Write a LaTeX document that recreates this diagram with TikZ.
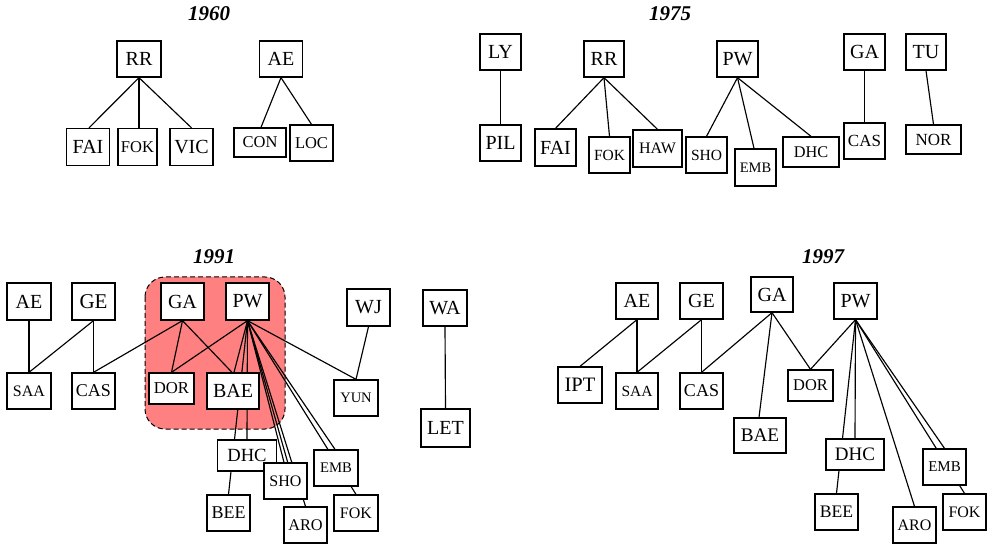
\documentclass[tikz,border=0pt]{standalone}
\usepackage{fontspec}
\setmainfont{Liberation Serif}
\pgfdeclarelayer{bg}
\pgfdeclarelayer{edges}
\pgfsetlayers{bg,edges,main}
\definecolor{hl}{RGB}{255,128,128}
\tikzset{
  box/.style={draw, fill=white, line width=1.3pt, inner sep=0pt},
  bx/.style n args={3}{box, minimum width=#1 pt, minimum height=#2 pt, font=\fontsize{#3}{#3}\selectfont},
  ttl/.style={font=\fontsize{21}{21}\selectfont\bfseries\itshape, inner sep=0pt},
  edge/.style={line width=1.15pt},
  hlbox/.style={fill=hl, draw=black, line width=1pt, dash pattern=on 5pt off 3pt, rounded corners=20pt}
}
\begin{document}
\begin{tikzpicture}[x=1pt,y=-1pt]
\useasboundingbox (0,0) rectangle (991,545);
% ---------- 1960 ----------
\node[ttl] (t60) at (209,14) {1960};
\node[bx={44}{36}{20}] (RRa) at (139,59) {RR};
\node[bx={43}{36}{20}] (AEa) at (281,59) {AE};
\node[bx={43}{37}{20}] (FAIa) at (88,147) {FAI};
\node[bx={39}{37}{16.5}] (FOKa) at (137.5,147) {FOK};
\node[bx={43}{37}{20}] (VICa) at (191.5,147) {VIC};
\node[bx={52}{29}{16.5}] (CONa) at (260,142.5) {CON};
\node[bx={43}{36}{16.5}] (LOCa) at (311.5,143) {LOC};
% ---------- 1975 ----------
\node[ttl] (t75) at (670,14) {1975};
\node[bx={41}{36}{20}] (LYb) at (500.5,52) {LY};
\node[bx={41}{36}{20}] (PILb) at (500.5,143) {PIL};
\node[bx={40}{36}{20}] (RRb) at (604,59) {RR};
\node[bx={41}{37}{20}] (FAIb) at (555.5,147.5) {FAI};
\node[bx={41}{36}{15.5}] (FOKb) at (609.5,155) {FOK};
\node[bx={49}{37}{16}] (HAWb) at (657.5,148.5) {HAW};
\node[bx={41}{36}{20}] (PWb) at (737.5,59) {PW};
\node[bx={41}{36}{15.5}] (SHOb) at (706.5,155) {SHO};
\node[bx={41}{37}{14.5}] (EMBb) at (755.5,167.5) {EMB};
\node[bx={56}{30}{16.3}] (DHCb) at (811,152) {DHC};
\node[bx={41}{36}{20}] (GAb) at (864.5,52) {GA};
\node[bx={41}{36}{17}] (CASb) at (864.5,141) {CAS};
\node[bx={40}{36}{20}] (TUb) at (926,52) {TU};
\node[bx={55}{29}{17}] (NORb) at (933.5,139.5) {NOR};
% ---------- 1991 ----------
\node[ttl] (t91) at (214,257) {1991};
\node[bx={44}{37}{20}] (AEc) at (29,301.5) {AE};
\node[bx={43}{37}{21}] (GEc) at (93.5,301.5) {GE};
\node[bx={43}{37}{20}] (GAc) at (182.5,301.5) {GA};
\node[bx={43}{37}{20}] (PWc) at (247.5,301.5) {PW};
\node[bx={43}{37}{20}] (WJc) at (368.5,307.5) {WJ};
\node[bx={44}{36}{20}] (WAc) at (445,308) {WA};
\node[bx={44}{36}{16}] (SAAc) at (29,391) {SAA};
\node[bx={43}{36}{18}] (CASc) at (93.5,391) {CAS};
\node[bx={45}{31}{16.7}] (DORc) at (171.5,388.5) {DOR};
\node[bx={52}{36}{20}] (BAEc) at (233,391) {BAE};
\node[bx={44}{36}{14.5}] (YUNc) at (356,398) {YUN};
\node[bx={49}{38}{20}] (LETc) at (445.5,428) {LET};
\node[bx={59}{31}{18.6}] (DHCc) at (247,455.5) {DHC};
\node[bx={44}{36}{14.7}] (EMBc) at (336,468) {EMB};
\node[bx={43}{36}{16}] (SHOc) at (285.5,481) {SHO};
\node[bx={43}{36}{18}] (BEEc) at (228.5,513) {BEE};
\node[bx={43}{36}{16.3}] (AROc) at (305.5,525) {ARO};
\node[bx={44}{36}{16}] (FOKc) at (356,513) {FOK};
% ---------- 1997 ----------
\node[ttl] (t97) at (823,257) {1997};
\node[bx={42}{36}{20}] (AEd) at (637,301) {AE};
\node[bx={43}{36}{20}] (GEd) at (701.5,301) {GE};
\node[bx={42}{35}{20}] (GAd) at (772,294.5) {GA};
\node[bx={43}{36}{20}] (PWd) at (855.5,301) {PW};
\node[bx={44}{36}{20.5}] (IPTd) at (580,385) {IPT};
\node[bx={42}{36}{15.5}] (SAAd) at (637,391) {SAA};
\node[bx={43}{36}{18}] (CASd) at (701.5,391) {CAS};
\node[bx={45}{31}{16.4}] (DORd) at (810.5,385.5) {DOR};
\node[bx={52}{35}{19.2}] (BAEd) at (760,435.5) {BAE};
\node[bx={58}{31}{19}] (DHCd) at (855,454.5) {DHC};
\node[bx={43}{36}{15}] (EMBd) at (944.5,467) {EMB};
\node[bx={43}{36}{17.6}] (BEEd) at (836.5,512) {BEE};
\node[bx={43}{36}{16}] (AROd) at (914.5,525) {ARO};
\node[bx={43}{36}{16}] (FOKd) at (964.5,512) {FOK};
% ---------- highlight ----------
\begin{pgfonlayer}{bg}
\coordinate (hlA) at (145,277);
\coordinate (hlB) at (285,429);
\draw[hlbox] (hlA) rectangle (hlB);
\end{pgfonlayer}
% ---------- edges ----------
\begin{pgfonlayer}{edges}
\draw[edge] (RRa.south) -- ([xshift=1]FAIa.north);
\draw[edge] (RRa.south) -- ([xshift=1.5]FOKa.north);
\draw[edge] (RRa.south) -- (VICa.north);
\draw[edge] (AEa.south) -- ([xshift=1]CONa.north);
\draw[edge] (AEa.south) -- (LOCa.north);
\draw[edge] (LYb.south) -- (PILb.north);
\draw[edge] (RRb.south) -- (FAIb.north);
\draw[edge] (RRb.south) -- (FOKb.north);
\draw[edge] (RRb.south) -- (HAWb.north);
\draw[edge] (PWb.south) -- (SHOb.north);
\draw[edge] (PWb.south) -- ([xshift=-1.5]EMBb.north);
\draw[edge] (PWb.south) -- (DHCb.north);
\draw[edge] (GAb.south) -- (CASb.north);
\draw[edge] (TUb.south) -- (NORb.north);
% 1991
\draw[edge] (AEc.south) -- (SAAc.north);
\draw[edge] (GEc.south) -- (SAAc.north);
\draw[edge] (GEc.south) -- (CASc.north);
\draw[edge] (GAc.south) -- (CASc.north);
\draw[edge] (GAc.south) -- (DORc.north);
\draw[edge] (GAc.south) -- ([xshift=-1]BAEc.north);
\draw[edge] (PWc.south) -- (DORc.north);
\draw[edge] (PWc.south) -- ([xshift=1]BAEc.north);
\draw[edge] (PWc.south) -- (BEEc.north);
\draw[edge] (PWc.south) -- (DHCc.north);
\draw[edge] (PWc.south) -- ([xshift=-1.5]SHOc.north);
\draw[edge] (PWc.south) -- ([xshift=2.2]SHOc.north);
\draw[edge] (PWc.south) -- (AROc.north);
\draw[edge] (PWc.south) -- ([xshift=-1]EMBc.north);
\draw[edge] (PWc.south) -- (FOKc.north);
\draw[edge] (PWc.south) -- (YUNc.north);
\draw[edge] (WJc.south) -- (YUNc.north);
\draw[edge] (WAc.south) -- (LETc.north);
% 1997
\draw[edge] (AEd.south) -- (IPTd.north);
\draw[edge] (AEd.south) -- (SAAd.north);
\draw[edge] (GEd.south) -- (SAAd.north);
\draw[edge] (GEd.south) -- (CASd.north);
\draw[edge] (GAd.south) -- (CASd.north);
\draw[edge] (GAd.south) -- ([xshift=-1]BAEd.north);
\draw[edge] (GAd.south) -- (DORd.north);
\draw[edge] (PWd.south) -- (DORd.north);
\draw[edge] (PWd.south) -- (BEEd.north);
\draw[edge] (PWd.south) -- (DHCd.north);
\draw[edge] (PWd.south) -- (AROd.north);
\draw[edge] (PWd.south) -- (EMBd.north);
\draw[edge] (PWd.south) -- (FOKd.north);
\end{pgfonlayer}
\end{tikzpicture}
\end{document}
